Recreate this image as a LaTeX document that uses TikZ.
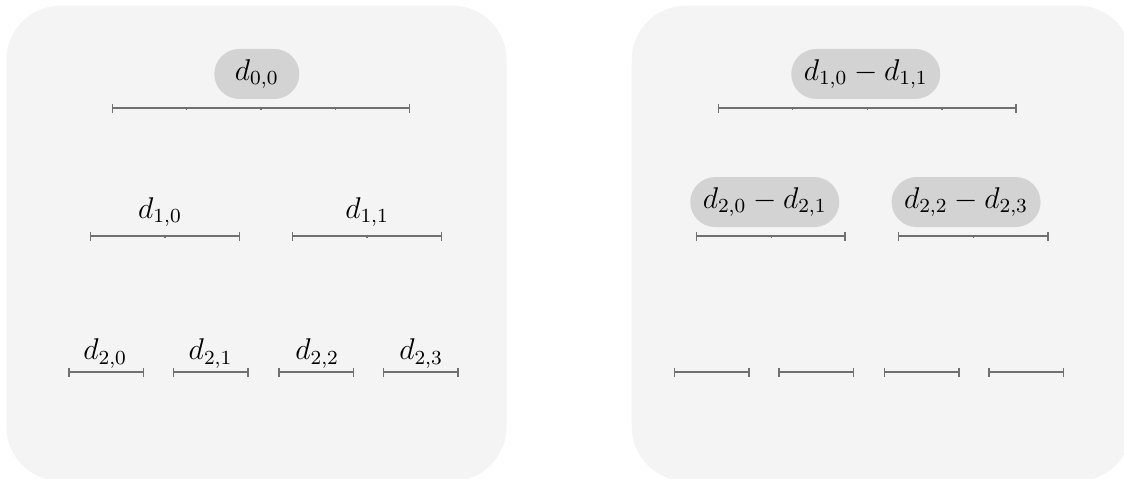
\documentclass[tikz,border=0pt]{standalone}
\usepackage{amsmath}
\usetikzlibrary{arrows.meta}
\definecolor{panelbg}{HTML}{F4F4F4}
\definecolor{pillgray}{HTML}{D3D3D3}
\definecolor{seggray}{HTML}{707070}

\begin{document}
\begin{tikzpicture}[
  seg/.style={seggray, line width=0.6pt, {Bar[width=3.6pt]}-{Bar[width=3.6pt]}},
  midtick/.style={seggray, line width=0.5pt},
  pill/.style={fill=pillgray, rounded corners=10pt, minimum height=20pt,
    minimum width=34pt, inner xsep=5pt, font=\large},
  lbl/.style={font=\large},
]

\useasboundingbox (0,0) rectangle (15.80,6.72);

% Panels
\fill[panelbg, rounded corners=0.76cm] (0.09,-0.04) rectangle (7.12,6.64);
\fill[panelbg, rounded corners=0.76cm] (8.88,-0.04) rectangle (15.91,6.64);

% ========================================
% Left panel: values per node
% ========================================

% Level 0
\draw[seg] (1.57,5.20) -- (5.77,5.20);
\draw[midtick] (2.62,5.20) -- (2.62,5.17);
\draw[midtick] (3.67,5.20) -- (3.67,5.17);
\draw[midtick] (4.72,5.20) -- (4.72,5.17);
\node[pill] (d00) at (3.61,5.68) {$d_{0,0}$};

% Level 1
\draw[seg] (1.26,3.40) -- (3.38,3.40);
\draw[midtick] (2.32,3.40) -- (2.32,3.37);
\draw[seg] (4.10,3.40) -- (6.22,3.40);
\draw[midtick] (5.16,3.40) -- (5.16,3.37);
\node[lbl] (d10) at (2.25,3.74) {$d_{1,0}$};
\node[lbl] (d11) at (5.16,3.74) {$d_{1,1}$};

% Level 2
\draw[seg] (0.96,1.49) -- (2.03,1.49);
\draw[seg] (2.43,1.49) -- (3.50,1.49);
\draw[seg] (3.91,1.49) -- (4.98,1.49);
\draw[seg] (5.38,1.49) -- (6.45,1.49);
\node[lbl] (d20) at (1.48,1.75) {$d_{2,0}$};
\node[lbl] (d21) at (2.96,1.75) {$d_{2,1}$};
\node[lbl] (d22) at (4.46,1.75) {$d_{2,2}$};
\node[lbl] (d23) at (5.92,1.75) {$d_{2,3}$};

% ========================================
% Right panel: differences
% ========================================

% Level 0
\draw[seg] (10.09,5.20) -- (14.29,5.20);
\draw[midtick] (11.14,5.20) -- (11.14,5.17);
\draw[midtick] (12.19,5.20) -- (12.19,5.17);
\draw[midtick] (13.24,5.20) -- (13.24,5.17);
\node[pill] (diff0) at (12.17,5.68) {$d_{1,0} - d_{1,1}$};

% Level 1
\draw[seg] (9.78,3.40) -- (11.89,3.40);
\draw[midtick] (10.84,3.40) -- (10.84,3.37);
\draw[seg] (12.62,3.40) -- (14.74,3.40);
\draw[midtick] (13.68,3.40) -- (13.68,3.37);
\node[pill] (diff10) at (10.75,3.88) {$d_{2,0} - d_{2,1}$};
\node[pill] (diff11) at (13.58,3.88) {$d_{2,2} - d_{2,3}$};

% Level 2
\draw[seg] (9.47,1.49) -- (10.54,1.49);
\draw[seg] (10.94,1.49) -- (12.01,1.49);
\draw[seg] (12.42,1.49) -- (13.49,1.49);
\draw[seg] (13.89,1.49) -- (14.96,1.49);

\end{tikzpicture}
\end{document}
